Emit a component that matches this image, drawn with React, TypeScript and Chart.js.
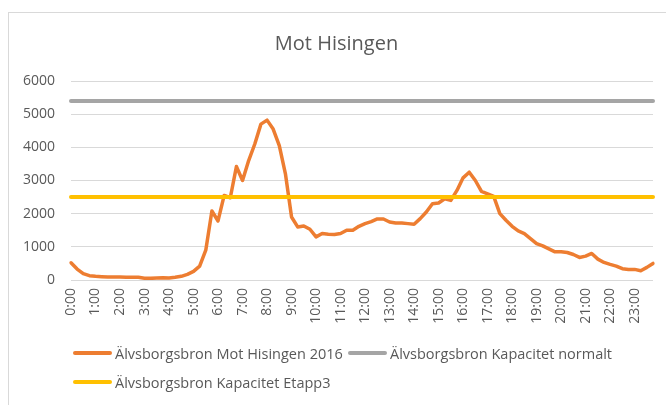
import React, { useEffect, useRef } from "react";
import { Chart, registerables } from "chart.js";

Chart.register(...registerables);

const hourLabels = [
  "0:00", "1:00", "2:00", "3:00", "4:00", "5:00", "6:00", "7:00",
  "8:00", "9:00", "10:00", "11:00", "12:00", "13:00", "14:00", "15:00",
  "16:00", "17:00", "18:00", "19:00", "20:00", "21:00", "22:00", "23:00",
];
const quarterSuffixes = ["00", "15", "30", "45"];
const categories: string[] = hourLabels.flatMap((h) => {
  const hh = h.split(":")[0];
  return quarterSuffixes.map((q) => `${hh}:${q}`);
});

// Älvsborgsbron Mot Hisingen 2016 (15-minute values)
const traffic2016 = [
  520, 330, 190, 130, 110, 100, 90, 90,
  90, 85, 80, 80, 55, 50, 60, 70,
  60, 80, 110, 170, 260, 420, 900, 2080,
  1780, 2550, 2480, 3420, 3000, 3600, 4100, 4700,
  4820, 4550, 4050, 3200, 1900, 1600, 1630, 1530,
  1300, 1400, 1380, 1370, 1400, 1500, 1500, 1620,
  1700, 1760, 1840, 1840, 1750, 1720, 1720, 1700,
  1680, 1850, 2050, 2300, 2320, 2450, 2400, 2700,
  3080, 3250, 3000, 2670, 2600, 2520, 2000, 1800,
  1620, 1480, 1400, 1250, 1100, 1030, 940, 850,
  850, 830, 770, 680, 720, 800, 630, 530,
  470, 420, 340, 320, 320, 280, 380, 500,
];

const capacityNormal = [
  { x: "0:00", y: 5400 },
  { x: "23:45", y: 5400 },
];
const capacityEtapp3 = [
  { x: "0:00", y: 2500 },
  { x: "23:45", y: 2500 },
];

const seriesNames = [
  "Älvsborgsbron Mot Hisingen 2016",
  "Älvsborgsbron Kapacitet normalt",
  "Älvsborgsbron Kapacitet Etapp3",
];
const seriesColors = ["#ED7D31", "#A5A5A5", "#FFC000"];

const FONT = "'Open Sans', 'Noto Sans', sans-serif";
const TEXT = "#595959";

export default function App() {
  const canvasRef = useRef<HTMLCanvasElement | null>(null);

  useEffect(() => {
    if (!canvasRef.current) return;
    const chart = new Chart(canvasRef.current, {
      type: "line",
      data: {
        labels: categories,
        datasets: [
          {
            label: seriesNames[0],
            data: traffic2016,
            borderColor: seriesColors[0],
            backgroundColor: seriesColors[0],
            borderWidth: 3.5,
            pointRadius: 0,
            tension: 0,
            borderJoinStyle: "round",
            borderCapStyle: "round",
            order: 1,
          },
          {
            label: seriesNames[1],
            data: capacityNormal as any,
            borderColor: seriesColors[1],
            backgroundColor: seriesColors[1],
            borderWidth: 4,
            pointRadius: 0,
            borderCapStyle: "round",
            order: 2,
          },
          {
            label: seriesNames[2],
            data: capacityEtapp3 as any,
            borderColor: seriesColors[2],
            backgroundColor: seriesColors[2],
            borderWidth: 4,
            pointRadius: 0,
            borderCapStyle: "round",
            order: 0,
          },
        ],
      },
      options: {
        animation: false,
        responsive: false,
        devicePixelRatio: 1,
        layout: { padding: { left: 20, right: 13, top: 0, bottom: 67 } },
        plugins: {
          legend: { display: false },
          tooltip: { enabled: false },
          title: {
            display: true,
            text: "Mot Hisingen",
            color: TEXT,
            font: { family: FONT, size: 20, weight: "normal" },
            padding: { top: 32, bottom: 25 },
          },
        },
        scales: {
          x: {
            type: "category",
            offset: false,
            grid: { display: false, drawTicks: false },
            border: { display: false },
            ticks: {
              autoSkip: false,
              minRotation: 90,
              maxRotation: 90,
              padding: 8,
              color: TEXT,
              font: { family: FONT, size: 14 },
              callback: (_v: any, i: number) =>
                i % 4 === 0 ? hourLabels[i / 4] : null,
            },
            afterFit: (scale: any) => {
              scale.height = 58;
            },
          },
          y: {
            min: 0,
            max: 6000,
            grid: { color: "#D9D9D9", lineWidth: 1, drawTicks: false },
            border: { display: false },
            ticks: {
              stepSize: 1000,
              padding: 16,
              color: TEXT,
              font: { family: FONT, size: 14 },
              callback: (v: any) => String(v),
            },
            afterFit: (scale: any) => {
              scale.width = 51;
            },
          },
        },
      },
    });
    return () => chart.destroy();
  }, []);

  const legendItem = (idx: number, left: number, top: number) => (
    <div
      key={idx}
      style={{
        position: "absolute",
        left,
        top: top - 10,
        height: 20,
        display: "flex",
        alignItems: "center",
        whiteSpace: "nowrap",
      }}
    >
      <div
        style={{
          width: 39,
          height: 4,
          borderRadius: 2,
          background: seriesColors[idx],
          marginRight: 3,
        }}
      />
      <span style={{ fontFamily: FONT, fontSize: 14.5, color: TEXT }}>
        {seriesNames[idx]}
      </span>
    </div>
  );

  return (
    <div
      style={{
        position: "fixed",
        left: 0,
        top: 0,
        width: 666,
        height: 405,
        background: "#ffffff",
        overflow: "hidden",
      }}
    >
      <div
        style={{
          position: "absolute",
          left: 8,
          top: 12,
          width: 700,
          height: 420,
          border: "1px solid #D9D9D9",
        }}
      />
      <canvas
        ref={canvasRef}
        width={666}
        height={405}
        style={{ position: "absolute", left: 0, top: 0, width: 666, height: 405 }}
      />
      {legendItem(0, 73, 353)}
      {legendItem(1, 348, 353)}
      {legendItem(2, 73, 382)}
    </div>
  );
}
